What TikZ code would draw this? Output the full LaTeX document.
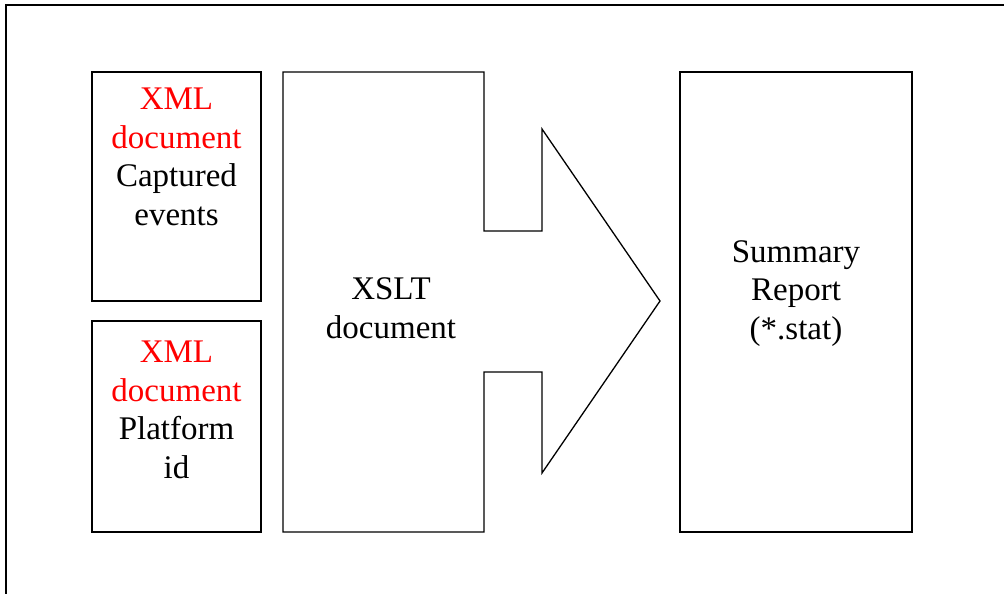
\documentclass[tikz,border=0pt]{standalone}
\usepackage{fontspec}
\setmainfont{Liberation Serif}

\begin{document}
\begin{tikzpicture}[x=1pt, y=-1pt,
    doc box/.style={draw=black, line width=1.3pt, inner sep=0pt},
    box text/.style={font=\fontsize{33}{38.5}\selectfont, align=center, inner sep=0pt, anchor=base},
    xml/.style={text=xmlred}
]
\definecolor{xmlred}{RGB}{255,0,0}   % input document labels

% page and outer frame (runs off the right and bottom)
\clip (0,0) rectangle (1004,594);
\fill[white] (0,0) rectangle (1004,594);
\draw[line width=1.5pt] (6,610) -- (6,5) -- (1020,5);

% input documents
\node[doc box, minimum width=169, minimum height=229] (events) at (176.5,186.5) {};
\node[doc box, minimum width=169, minimum height=211] (platform) at (176.5,426.5) {};

% summary report
\node[doc box, minimum width=232, minimum height=460] (report) at (796,302) {};

% transformation arrow
\draw[line width=1.3pt, line join=miter]
    (283,72) -- (484,72) -- (484,231) -- (542,231) -- (542,129) -- (660,301)
    -- (542,473) -- (542,372) -- (484,372) -- (484,532) -- (283,532) -- cycle;

% labels (base = last line)
\node[box text] (eventstext) at (176.5,225)
    {\textcolor{xmlred}{XML}\\\textcolor{xmlred}{document}\\Captured\\events};
\node[box text] (platformtext) at (176.5,478)
    {\textcolor{xmlred}{XML}\\\textcolor{xmlred}{document}\\Platform\\id};
\node[box text] (xslttext) at (391,338) {XSLT\\document};
\node[box text] (reporttext) at (796,339) {Summary\\Report\\(*.stat)};

\end{tikzpicture}
\end{document}
